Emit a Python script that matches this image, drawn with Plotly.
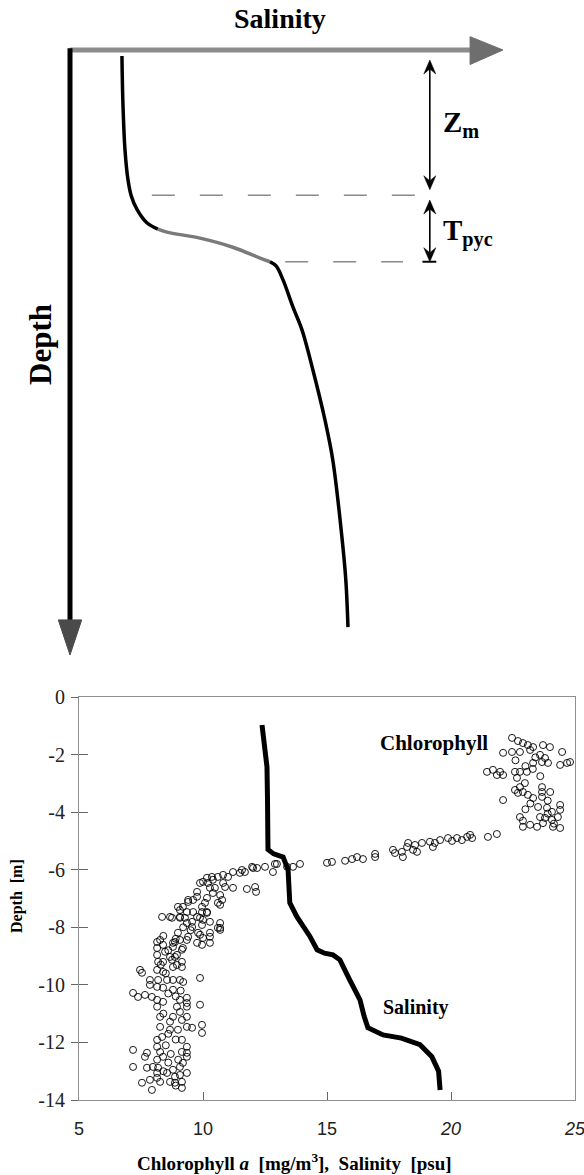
import plotly.graph_objects as go

# ---------------- schematic profile (arbitrary units) ----------------
sch_sal_upper = [1.20, 1.22, 1.27, 1.34, 1.41, 1.55, 1.78, 2.03]
sch_dep_upper = [0.10, 0.83, 1.65, 2.15, 2.40, 2.64, 2.86, 2.96]
sch_sal_pyc = [2.03, 2.24, 3.00, 3.76, 4.39, 4.62]
sch_dep_pyc = [2.96, 3.01, 3.11, 3.26, 3.44, 3.50]
sch_sal_lower = [4.62, 4.76, 4.92, 5.15, 5.36, 5.61, 5.89, 6.07, 6.28, 6.37, 6.42]
sch_dep_lower = [3.50, 3.57, 3.80, 4.25, 4.63, 5.29, 6.12, 6.78, 8.05, 8.76, 9.54]
mixed_layer_top = 0.165
mixed_layer_base = 2.40
pycnocline_top = 2.48
pycnocline_base = 3.50

# ---------------- measured salinity profile ----------------
sal_psu = [12.38, 12.50, 12.58, 12.60, 12.58, 12.62, 12.85, 13.23, 13.43, 13.48, 13.50,
           13.79, 14.05, 14.30, 14.60, 14.90, 15.24, 15.52, 15.90, 16.33, 16.50, 16.65,
           17.26, 18.00, 18.75, 19.23, 19.50, 19.56]
sal_depth = [-0.97, -1.90, -2.43, -3.50, -4.97, -5.30, -5.45, -5.56, -6.00, -6.60, -7.15,
             -7.64, -7.95, -8.30, -8.78, -8.90, -8.96, -9.13, -9.80, -10.52, -11.10, -11.49,
             -11.74, -11.85, -12.08, -12.50, -13.00, -13.65]

# ---------------- chlorophyll a ----------------
chl = [
    # surface cluster
    22.46, 22.70, 22.90, 23.10, 23.31, 23.71, 23.99, 22.10, 22.46, 22.78, 23.19, 23.59, 23.79,
    24.48, 24.40, 24.68, 24.80, 23.91, 23.67, 23.31, 21.69, 21.98, 22.10, 21.85, 21.45, 22.58,
    22.78, 23.06, 22.66, 22.98, 22.78, 22.58, 22.70, 22.90, 23.10, 23.31, 23.67, 23.67, 23.67,
    22.10, 23.51, 23.87, 24.07, 24.40, 24.40, 24.31, 23.59, 23.79, 24.07, 23.71, 23.19, 22.90,
    22.78, 23.47, 24.40, 24.11, 23.40, 23.30, 23.00, 22.60, 23.60, 23.90, 24.00, 23.20, 23.00,
    22.90, 23.90, 24.15, 21.85, 21.49,
    # nitracline band
    13.39, 13.63, 13.91, 15.00, 15.20, 15.73, 16.01, 16.21, 16.45, 16.94, 16.94, 17.66, 17.74,
    18.02, 18.06, 18.23, 18.27, 18.47, 18.63, 18.55, 18.83, 19.15, 19.35, 19.27, 19.56, 19.88,
    20.04, 20.24, 20.44, 20.65, 20.77, 20.85,
    # bend
    12.98, 12.82, 12.50, 12.18, 11.98, 11.69, 11.57, 11.21, 11.01, 10.81, 10.60, 10.36, 10.16,
    10.00, 10.20, 10.40, 10.81, 10.89, 11.21, 11.77, 12.10, 12.14, 10.48, 10.28, 9.88, 9.76,
    9.76, 10.16, 10.40, 10.69, 10.77, 10.69, 10.08, 9.96, 9.60, 9.40, 9.19, 8.99, 9.07, 9.35,
    9.60, 9.96, 10.16, 10.28, 10.00, 9.76, 9.56, 9.27, 9.07, 8.75, 9.56, 9.96, 10.69, 9.80,
    9.40, 8.99, 9.07, 8.87, 8.79, 9.19, 9.96, 10.28, 10.00, 8.87, 8.75, 9.15, 8.95, 11.49,
    12.02, 12.90, 9.40, 10.60, 8.35, 8.67, 10.60, 8.27,
    # deep layer
    9.07, 9.35, 9.88, 10.16, 10.69, 10.28, 9.88, 10.69, 9.35, 8.79, 9.76, 10.28, 8.15, 8.15,
    8.15, 8.39, 8.47, 8.19, 8.39, 8.67, 8.95, 9.15, 8.79, 9.15, 8.15, 8.39, 7.46, 7.54, 7.86,
    8.19, 8.55, 8.79, 9.07, 7.86, 8.15, 8.39, 8.79, 9.88, 7.18, 7.38, 7.66, 7.94, 8.15, 8.39,
    8.15, 9.07, 9.35, 8.95, 9.35, 9.07, 8.79, 8.67, 8.67, 8.27, 8.27, 8.35, 8.15, 8.15, 8.27,
    8.39, 8.15, 7.98, 8.19, 8.15, 8.55, 8.79, 9.07, 9.19, 9.35, 9.15, 9.35, 9.15, 8.99, 9.35,
    9.15, 9.35, 9.56, 9.35, 9.88, 9.96, 9.96, 7.18, 7.74, 7.66, 7.18, 7.74, 7.54, 7.86, 7.94,
    8.27, 8.67, 8.87, 9.15, 9.15, 8.87, 9.07, 9.35, 9.35, 8.15, 8.50, 8.60, 8.90, 8.40, 8.60,
    8.90, 8.50, 8.70, 9.00, 8.60, 8.90, 8.40, 9.10, 9.20, 8.30, 8.60, 8.40, 8.90, 9.50, 9.20,
]
chl_depth = [
    -1.42, -1.53, -1.60, -1.67, -1.74, -1.67, -1.74, -1.94, -1.91, -1.91, -1.84, -2.01, -2.12,
    -1.91, -2.36, -2.29, -2.26, -2.29, -2.26, -2.29, -2.53, -2.60, -2.71, -2.71, -2.60, -2.60,
    -2.60, -2.60, -2.81, -2.99, -3.13, -3.23, -3.33, -3.30, -3.40, -3.51, -3.13, -3.30, -3.47,
    -3.58, -3.82, -3.85, -3.99, -3.75, -3.92, -4.17, -4.17, -4.20, -4.27, -4.38, -4.44, -4.51,
    -4.17, -4.51, -4.55, -4.51, -2.10, -2.50, -2.40, -2.20, -2.75, -3.60, -3.30, -3.70, -3.90,
    -4.30, -4.05, -4.40, -4.76, -4.86,
    -5.90, -5.90, -5.80, -5.76, -5.73, -5.69, -5.63, -5.56, -5.63, -5.45, -5.56, -5.31, -5.42,
    -5.38, -5.56, -5.21, -5.07, -5.31, -5.38, -5.14, -5.07, -5.03, -5.07, -5.21, -4.97, -4.90,
    -5.00, -4.90, -4.97, -4.86, -4.79, -4.90,
    -5.80, -6.08, -5.90, -5.94, -5.90, -6.08, -6.01, -6.08, -6.25, -6.18, -6.25, -6.25, -6.28,
    -6.42, -6.46, -6.35, -6.46, -6.60, -6.63, -6.67, -6.60, -6.77, -6.63, -6.63, -6.46, -6.77,
    -6.94, -6.98, -6.81, -6.88, -7.05, -7.22, -7.15, -7.29, -7.05, -7.12, -7.29, -7.29, -7.40,
    -7.47, -7.47, -7.47, -7.47, -7.81, -7.74, -7.64, -7.81, -7.67, -7.64, -7.67, -7.99, -7.92,
    -8.02, -8.19, -8.33, -8.19, -8.44, -8.51, -8.68, -8.72, -8.61, -8.33, -8.37, -9.03, -9.13,
    -9.20, -9.31, -6.11, -5.94, -5.80, -7.05, -7.15, -7.64, -7.64, -8.02, -8.44,
    -7.67, -7.85, -7.67, -7.50, -7.85, -8.19, -8.26, -8.09, -8.44, -8.54, -8.54, -8.54, -8.51,
    -8.72, -8.96, -8.61, -8.85, -9.20, -9.20, -9.03, -8.96, -8.78, -9.38, -9.38, -9.48, -9.55,
    -9.48, -9.58, -9.83, -9.83, -9.83, -9.83, -9.83, -10.00, -10.07, -10.10, -10.17, -9.76,
    -10.28, -10.42, -10.35, -10.42, -10.52, -10.59, -10.76, -10.52, -10.45, -10.76, -10.63,
    -10.94, -11.11, -11.28, -11.56, -11.11, -11.46, -11.81, -11.91, -12.15, -12.33, -12.50,
    -12.60, -12.85, -12.88, -13.06, -13.06, -12.95, -12.85, -12.71, -12.50, -12.33, -12.15,
    -11.91, -11.56, -11.46, -11.22, -11.11, -11.49, -10.76, -10.69, -11.39, -11.67, -12.26,
    -12.36, -12.50, -12.85, -12.88, -13.40, -13.30, -13.65, -13.37, -13.37, -13.40, -13.37,
    -13.58, -13.19, -13.13, -13.06, -12.36, -13.23, -9.60, -10.30, -10.40, -11.00, -11.70,
    -11.90, -12.10, -12.40, -12.60, -12.70, -13.50, -13.00, -10.20, -9.90, -9.30, -8.80, -8.30,
    -8.40, -8.10, -8.00,
]

depth_ticks = [0, -2, -4, -6, -8, -10, -12, -14]
depth_ticktext = ["0", "-2", "-4", "-6", "-8", "-10", "-12", "-14"]
x_ticks = [5, 10, 15, 20, 25]
x_ticktext = ["5", "10", "15", "<i>20</i>", "<i>25</i>"]

W, H = 584, 1175
SERIF = "Liberation Serif"
SANS = "Liberation Sans"

fig = go.Figure()

# schematic profile
fig.add_trace(go.Scatter(x=sch_sal_upper, y=sch_dep_upper, mode="lines",
                         line=dict(color="black", width=3.5, shape="spline"),
                         xaxis="x2", yaxis="y2", hoverinfo="skip", showlegend=False))
fig.add_trace(go.Scatter(x=sch_sal_pyc, y=sch_dep_pyc, mode="lines",
                         line=dict(color="#7a7a7a", width=3.5, shape="spline"),
                         xaxis="x2", yaxis="y2", hoverinfo="skip", showlegend=False))
fig.add_trace(go.Scatter(x=sch_sal_lower, y=sch_dep_lower, mode="lines",
                         line=dict(color="black", width=3.5, shape="spline"),
                         xaxis="x2", yaxis="y2", hoverinfo="skip", showlegend=False))

# data
fig.add_trace(go.Scatter(x=chl, y=chl_depth, mode="markers",
                         marker=dict(symbol="circle-open", size=7, color="black",
                                     line=dict(width=0.9, color="black")),
                         xaxis="x", yaxis="y", showlegend=False))
fig.add_trace(go.Scatter(x=sal_psu, y=sal_depth, mode="lines",
                         line=dict(color="black", width=5),
                         xaxis="x", yaxis="y", showlegend=False))
# invisible trace to activate crossing-tick overlay axis
fig.add_trace(go.Scatter(x=[None], y=[None], mode="markers", xaxis="x", yaxis="y3",
                         showlegend=False, hoverinfo="skip"))

def px_x(p):
    return p / W

def px_y(p):
    return 1 - p / H

shapes = []
# salinity axis arrow (schematic)
shapes.append(dict(type="line", xref="x2", yref="y2", x0=0, y0=0, x1=9.3, y1=0,
                   line=dict(color="#8c8c8c", width=5)))
shapes.append(dict(type="path", xref="x2", yref="y2",
                   path="M 9.24,-0.22 L 10,0 L 9.24,0.24 Z",
                   fillcolor="#6e6e6e", line=dict(color="#6e6e6e", width=1)))
# depth axis arrow
shapes.append(dict(type="line", xref="x2", yref="y2", x0=0, y0=-0.03, x1=0, y1=9.5,
                   line=dict(color="black", width=5)))
shapes.append(dict(type="path", xref="x2", yref="y2",
                   path="M -0.27,9.42 L 0,10 L 0.27,9.42 Z",
                   fillcolor="#4a4a4a", line=dict(color="#4a4a4a", width=1)))
# dashed reference lines
shapes.append(dict(type="line", xref="x2", yref="y2", x0=1.89, y0=mixed_layer_base,
                   x1=7.97, y1=mixed_layer_base,
                   line=dict(color="#8a8a8a", width=1.6, dash="23px,25px")))
shapes.append(dict(type="line", xref="x2", yref="y2", x0=4.97, y0=pycnocline_base,
                   x1=7.69, y1=pycnocline_base,
                   line=dict(color="#8a8a8a", width=1.6, dash="23px,25px")))
# small bar at base of Tpyc arrow
shapes.append(dict(type="line", xref="x2", yref="y2", x0=8.14, y0=pycnocline_base,
                   x1=8.46, y1=pycnocline_base, line=dict(color="black", width=2)))


def double_arrow(xc, top, bottom):
    hw, hl, notch = 0.139, 0.231, 0.149
    shapes.append(dict(type="line", xref="x2", yref="y2", x0=xc, y0=top + notch,
                       x1=xc, y1=bottom - notch, line=dict(color="black", width=1.6)))
    shapes.append(dict(type="path", xref="x2", yref="y2",
                       path=f"M {xc},{top} L {xc - hw},{top + hl} L {xc},{top + notch} "
                            f"L {xc + hw},{top + hl} Z",
                       fillcolor="black", line=dict(color="black", width=0.5)))
    shapes.append(dict(type="path", xref="x2", yref="y2",
                       path=f"M {xc},{bottom} L {xc - hw},{bottom - hl} L {xc},{bottom - notch} "
                            f"L {xc + hw},{bottom - hl} Z",
                       fillcolor="black", line=dict(color="black", width=0.5)))


double_arrow(8.31, mixed_layer_top, mixed_layer_base - 0.09)
double_arrow(8.31, pycnocline_top, pycnocline_base)

annotations = []


def label(text, x, y, size, family=SERIF, xanchor="center", yanchor="middle",
          angle=0, color="black"):
    annotations.append(dict(xref="paper", yref="paper", x=px_x(x), y=px_y(y), text=text,
                            showarrow=False, xanchor=xanchor, yanchor=yanchor,
                            textangle=angle, font=dict(family=family, size=size, color=color)))


label("<b>Salinity</b>", 280, 19, 28)
label("<b>Depth</b>", 40, 345, 31, angle=-90)
label("<b>Z<sub>m</sub></b>", 441, 124, 29, xanchor="left")
label("<b>T<sub>pyc</sub></b>", 441, 232, 29, xanchor="left")
label("<b>Chlorophyll</b>", 434, 743, 21)
label("<b>Salinity</b>", 416, 1007, 20)
label("<b>Depth  [m]</b>", 17, 896, 16, angle=-90)
label("<b>Chlorophyll <i>a</i>  [mg/m<sup>3</sup>],  Salinity  [psu]</b>", 294, 1162, 19)

ax_line = "#8f8f8f"
fig.update_layout(
    width=W, height=H, autosize=False,
    margin=dict(l=0, r=0, t=0, b=0, pad=0, autoexpand=False),
    paper_bgcolor="white", plot_bgcolor="white",
    showlegend=False,
    shapes=shapes, annotations=annotations,
    xaxis=dict(domain=[px_x(79), px_x(575)], range=[5, 25], anchor="y",
               tickmode="array", tickvals=x_ticks, ticktext=x_ticktext,
               ticks="inside", ticklen=8, tickwidth=1, tickcolor="#666",
               showline=True, linecolor=ax_line, linewidth=1, mirror=True,
               showgrid=False, zeroline=False, ticklabelstandoff=12, automargin=False,
               ticklabeloverflow="allow",
               tickfont=dict(family=SANS, size=18, color="#222")),
    yaxis=dict(domain=[px_y(1100), px_y(697)], range=[-14, 0], anchor="x",
               tickmode="array", tickvals=depth_ticks, ticktext=depth_ticktext,
               ticks="outside", ticklen=7, tickwidth=1, tickcolor="#666",
               showline=True, linecolor=ax_line, linewidth=1, mirror=True,
               showgrid=False, zeroline=False, ticklabelstandoff=2, automargin=False,
               ticklabeloverflow="allow",
               tickfont=dict(family=SERIF, size=20, color="#222")),
    yaxis3=dict(overlaying="y", anchor="x", range=[-14, 0], side="left",
                tickmode="array", tickvals=depth_ticks, ticks="inside", ticklen=9,
                tickwidth=1, tickcolor="#666", showticklabels=False, automargin=False,
                showline=False, showgrid=False, zeroline=False),
    xaxis2=dict(domain=[px_x(40), px_x(540)], range=[-0.693, 10.855], anchor="y2",
                visible=False, showgrid=False, zeroline=False, automargin=False),
    yaxis2=dict(domain=[px_y(670), px_y(25)], range=[10.248, -0.413], anchor="x2",
                visible=False, showgrid=False, zeroline=False, automargin=False),
)

fig.write_html("out.html",
               config={"displayModeBar": False},
               post_script="document.body.style.margin='0';"
                           "document.body.style.padding='0';"
                           "document.documentElement.style.overflow='hidden';")
